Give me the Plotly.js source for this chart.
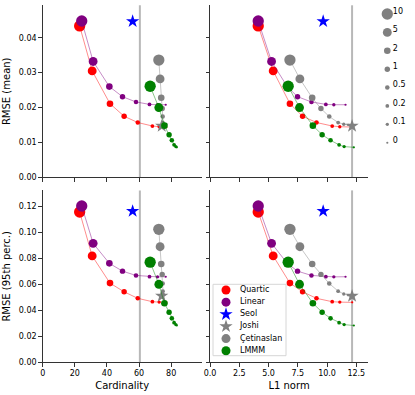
<!DOCTYPE html>
<html><head><meta charset="utf-8">
<script src="https://cdn.plot.ly/plotly-3.0.1.min.js"></script>
<style>html,body{margin:0;padding:0;background:#fff;} #chart{width:415px;height:395px;}</style>
</head><body><div id="chart"></div>
<script>
// ---- data ----
const lambdas = [10, 5, 2, 1, 0.5, 0.2, 0.1, 0];
const sizeLabels = ['10', '5', '2', '1', '0.5', '0.2', '0.1', '0'];
const seriesNames = ['Quartic', 'Linear', 'Seol', 'Joshi', 'Çetinaslan', 'LMMM'];

const quarticCard = [23.0, 30.8, 41.9, 50.7, 59.2, 68.3, 72.5, 77.0];
const quarticL1   = [4.12, 5.40, 6.83, 7.91, 9.10, 10.44, 11.09, 12.15];
const quarticMean = [0.0434, 0.0305, 0.0211, 0.0175, 0.0157, 0.0147, 0.0145, 0.0144];
const quarticP95  = [0.1156, 0.0818, 0.0609, 0.0542, 0.0492, 0.0466, 0.0463, 0.0461];

const linearCard = [24.3, 31.4, 41.5, 49.7, 58.1, 66.5, 71.5, 76.6];
const linearL1   = [4.12, 5.26, 6.60, 7.48, 8.67, 9.90, 10.58, 11.58];
const linearMean = [0.0448, 0.0332, 0.0260, 0.0231, 0.0216, 0.0209, 0.0208, 0.0208];
const linearP95  = [0.1202, 0.0915, 0.0761, 0.0701, 0.0668, 0.0658, 0.0657, 0.0658];

const seolCard = [56.0];
const seolL1   = [9.67];
const seolMean = [0.0447];
const seolP95  = [0.1162];

const joshiCard = [74.1];
const joshiL1   = [12.14];
const joshiMean = [0.0147];
const joshiP95  = [0.0510];

const cetinCard = [72.3, 73.1, 73.8, 74.4, 74.7, 74.9, 75.0, 75.1];
const cetinL1   = [6.83, 7.68, 8.73, 9.48, 10.19, 10.95, 11.43, 11.80];
const cetinMean = [0.0336, 0.0282, 0.0228, 0.0197, 0.0174, 0.0157, 0.0152, 0.0150];
const cetinP95  = [0.1023, 0.0889, 0.0756, 0.0676, 0.0606, 0.0547, 0.0525, 0.0515];

const lmmmCard = [66.9, 72.3, 75.8, 78.7, 80.4, 81.8, 82.9, 83.5];
const lmmmL1   = [6.68, 7.65, 8.79, 9.58, 10.30, 11.03, 11.46, 12.29];
const lmmmMean = [0.0261, 0.0200, 0.0148, 0.0122, 0.0106, 0.0093, 0.0088, 0.0086];
const lmmmP95  = [0.0770, 0.0600, 0.0454, 0.0385, 0.0338, 0.0305, 0.0290, 0.0283];

const refCardinality = [60.5];
const refL1 = [12.14];

const cardTicks = [0, 20, 40, 60, 80];
const l1Ticks = [0, 2.5, 5, 7.5, 10, 12.5];
const meanTicks = [0, 0.01, 0.02, 0.03, 0.04];
const p95Ticks = [0, 0.02, 0.04, 0.06, 0.08, 0.10, 0.12];

// ---- styles ----
const FONT = 'DejaVu Sans';
const style = {
  'Quartic':    {color: '#ff0000', line: 'rgba(255,0,0,0.45)', symbol: 'circle'},
  'Linear':     {color: '#800080', line: 'rgba(128,0,128,0.45)', symbol: 'circle'},
  'Seol':       {color: '#0000ff', symbol: 'star'},
  'Joshi':      {color: '#808080', symbol: 'star'},
  'Çetinaslan': {color: '#808080', line: 'rgba(128,128,128,0.45)', symbol: 'circle'},
  'LMMM':       {color: '#008000', line: 'rgba(0,128,0,0.45)', symbol: 'circle'}
};
const seriesData = {
  'Quartic':    {card: quarticCard, l1: quarticL1, mean: quarticMean, p95: quarticP95},
  'Linear':     {card: linearCard, l1: linearL1, mean: linearMean, p95: linearP95},
  'Seol':       {card: seolCard, l1: seolL1, mean: seolMean, p95: seolP95},
  'Joshi':      {card: joshiCard, l1: joshiL1, mean: joshiMean, p95: joshiP95},
  'Çetinaslan': {card: cetinCard, l1: cetinL1, mean: cetinMean, p95: cetinP95},
  'LMMM':       {card: lmmmCard, l1: lmmmL1, mean: lmmmMean, p95: lmmmP95}
};
function sizeFor(l) { return 2.2 + 3.23 * Math.pow(l, 0.45); }
const STAR = 10;

const panels = [
  {xa: 'x',  ya: 'y',  xk: 'card', yk: 'mean'},
  {xa: 'x2', ya: 'y2', xk: 'l1',   yk: 'mean'},
  {xa: 'x3', ya: 'y3', xk: 'card', yk: 'p95'},
  {xa: 'x4', ya: 'y4', xk: 'l1',   yk: 'p95'}
];

const traces = [];
panels.forEach(p => {
  seriesNames.forEach(name => {
    const st = style[name], d = seriesData[name];
    const isStar = st.symbol === 'star';
    traces.push({
      type: 'scatter', mode: isStar ? 'markers' : 'lines+markers',
      x: d[p.xk], y: d[p.yk], xaxis: p.xa, yaxis: p.ya, name: name, showlegend: false,
      line: {color: st.line || st.color, width: 1},
      marker: {color: st.color, symbol: st.symbol, opacity: 1,
               size: isStar ? STAR : lambdas.map(sizeFor), line: {width: 0}},
      cliponaxis: false, hoverinfo: 'skip'
    });
  });
});

// size legend (right)
traces.push({
  type: 'scatter', mode: 'markers', xaxis: 'x5', yaxis: 'y5', showlegend: false,
  x: lambdas.map(() => 7.3), y: lambdas.map((_, i) => i),
  marker: {color: '#808080', opacity: 1, size: lambdas.map(sizeFor), line: {width: 0}}, hoverinfo: 'skip'
});
traces.push({
  type: 'scatter', mode: 'text', xaxis: 'x5', yaxis: 'y5', showlegend: false,
  x: sizeLabels.map(() => 12.8), y: sizeLabels.map((_, i) => i - 0.12),
  text: sizeLabels, textposition: 'middle right',
  textfont: {family: FONT, size: 8, color: '#000'}, hoverinfo: 'skip'
});

// series legend (bottom right panel)
traces.push({
  type: 'scatter', mode: 'markers', xaxis: 'x6', yaxis: 'y6', showlegend: false,
  x: seriesNames.map(() => 13), y: seriesNames.map((_, i) => i),
  marker: {color: seriesNames.map(n => style[n].color), opacity: 1,
           symbol: seriesNames.map(n => style[n].symbol),
           size: seriesNames.map(n => style[n].symbol === 'star' ? 10 : 9), line: {width: 0}},
  hoverinfo: 'skip'
});
traces.push({
  type: 'scatter', mode: 'text', xaxis: 'x6', yaxis: 'y6', showlegend: false,
  x: seriesNames.map(() => 27), y: seriesNames.map((_, i) => i),
  text: seriesNames, textposition: 'middle right',
  textfont: {family: FONT, size: 8, color: '#000'}, hoverinfo: 'skip'
});

const W = 415, H = 395;
const xL = [42.7 / W, 201.7 / W], xR = [210 / W, 368 / W];
const yT = [(H - 177.3) / H, (H - 5.3) / H], yB = [(H - 362.3) / H, (H - 190.4) / H];

function ax(extra) {
  return Object.assign({
    showline: true, linecolor: '#333', linewidth: 1, ticks: 'outside', ticklen: 3.5,
    tickwidth: 1, tickcolor: '#333', showgrid: false, zeroline: false, automargin: false,
    tickfont: {family: FONT, size: 8, color: '#000'}, fixedrange: true
  }, extra);
}
function hidden(extra) {
  return Object.assign({visible: false, fixedrange: true, showgrid: false, zeroline: false}, extra);
}
const titleFont = {family: FONT, size: 10, color: '#000'};

const layout = {
  width: W, height: H, margin: {l: 0, r: 0, t: 0, b: 0},
  paper_bgcolor: '#fff', plot_bgcolor: 'rgba(0,0,0,0)',
  font: {family: FONT, size: 8, color: '#000'}, showlegend: false, hovermode: false,
  xaxis:  ax({domain: xL, anchor: 'y',  range: [0, 99], tickvals: cardTicks, showticklabels: false}),
  yaxis:  ax({domain: yT, anchor: 'x',  range: [0, 0.0493], tickvals: meanTicks, tickformat: '.2f',
              title: {text: 'RMSE (mean)', font: titleFont, standoff: 6}}),
  xaxis2: ax({domain: xR, anchor: 'y2', range: [0, 13.5], tickvals: l1Ticks, showticklabels: false}),
  yaxis2: ax({domain: yT, anchor: 'x2', range: [0, 0.0493], tickvals: meanTicks, showticklabels: false}),
  xaxis3: ax({domain: xL, anchor: 'y3', range: [0, 99], tickvals: cardTicks,
              title: {text: 'Cardinality', font: titleFont, standoff: 4}}),
  yaxis3: ax({domain: yB, anchor: 'x3', range: [0, 0.1322], tickvals: p95Ticks, tickformat: '.2f',
              title: {text: 'RMSE (95th perc.)', font: titleFont, standoff: 6}}),
  xaxis4: ax({domain: xR, anchor: 'y4', range: [0, 13.5], tickvals: l1Ticks, tickformat: '.1f',
              title: {text: 'L1 norm', font: titleFont, standoff: 4}}),
  yaxis4: ax({domain: yB, anchor: 'x4', range: [0, 0.1322], tickvals: p95Ticks, showticklabels: false}),
  xaxis5: hidden({domain: [380 / W, 1], anchor: 'y5', range: [0, 35]}),
  yaxis5: hidden({domain: [(H - 152) / H, (H - 5) / H], anchor: 'x5', range: [7.504, -0.489]}),
  xaxis6: hidden({domain: [213 / W, 286 / W], anchor: 'y6', range: [0, 73]}),
  yaxis6: hidden({domain: [(H - 355.7) / H, (H - 284.3) / H], anchor: 'x6', range: [5.41, -0.47]}),
  shapes: [
    {type: 'line', xref: 'x',  yref: 'y domain',  x0: refCardinality[0], x1: refCardinality[0], y0: 0, y1: 1, line: {color: '#b8b8b8', width: 2}, layer: 'below'},
    {type: 'line', xref: 'x3', yref: 'y3 domain', x0: refCardinality[0], x1: refCardinality[0], y0: 0, y1: 1, line: {color: '#b8b8b8', width: 2}, layer: 'below'},
    {type: 'line', xref: 'x2', yref: 'y2 domain', x0: refL1[0], x1: refL1[0], y0: 0, y1: 1, line: {color: '#b8b8b8', width: 2}, layer: 'below'},
    {type: 'line', xref: 'x4', yref: 'y4 domain', x0: refL1[0], x1: refL1[0], y0: 0, y1: 1, line: {color: '#b8b8b8', width: 2}, layer: 'below'},
    {type: 'rect', xref: 'paper', yref: 'paper', x0: 213 / W, x1: 286 / W, y0: (H - 355.7) / H, y1: (H - 284.3) / H,
     line: {color: '#d6d6d6', width: 1}, fillcolor: 'rgba(255,255,255,0.85)', layer: 'below'}
  ]
};

Plotly.newPlot('chart', traces, layout, {staticPlot: true, displayModeBar: false});
</script>
</body></html>
